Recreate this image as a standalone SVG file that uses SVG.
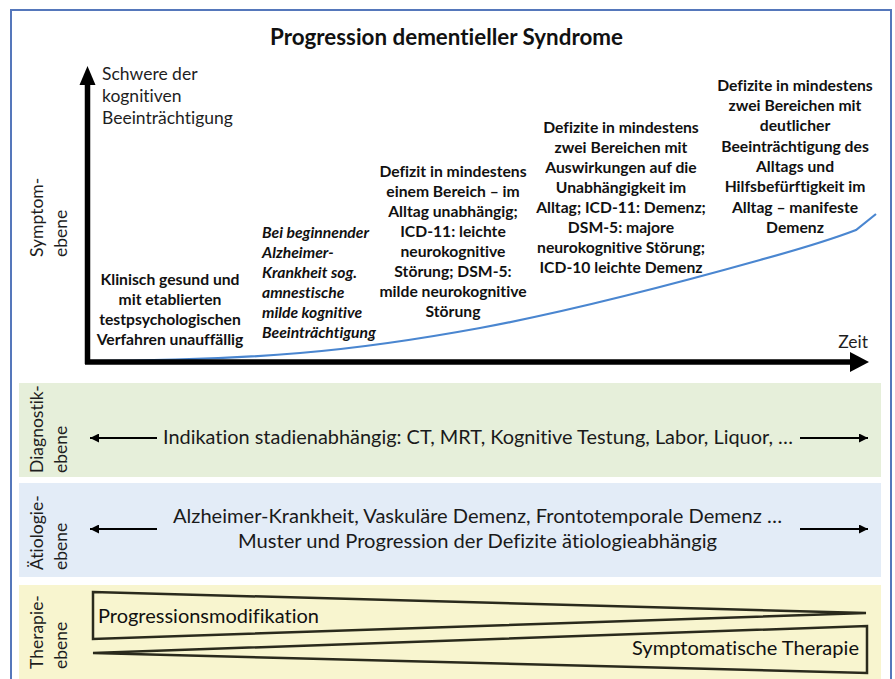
<svg xmlns="http://www.w3.org/2000/svg" width="895" height="679" viewBox="0 0 895 679">
<defs>
<style>
.t{font-family:Lato,"Liberation Sans",sans-serif;fill:#111;font-variant-ligatures:none;font-feature-settings:"liga" 0,"clig" 0}
.b{font-weight:bold;font-size:15.7px;text-anchor:middle}
.bi{font-weight:bold;font-style:italic;font-size:15.7px}
.lab{font-size:17.5px;fill:#1e1e1e}
.band{font-size:18.5px;fill:#1a1a1a;text-anchor:middle}
.thin{stroke:#000;stroke-width:2;fill:none}
.tri{fill:none;stroke:#2a2a1c;stroke-width:2.5;stroke-linejoin:miter}
</style>
<marker id="ah" viewBox="0 0 10 10" refX="10" refY="5" markerWidth="5.5" markerHeight="4.5" orient="auto-start-reverse" markerUnits="strokeWidth">
<path d="M0,0 L10,5 L0,10 z" fill="#000"/>
</marker>
</defs>
<rect x="0" y="0" width="895" height="679" fill="#fff"/>
<rect x="11" y="10" width="880" height="690" fill="#fff" stroke="#5577bb" stroke-width="2"/>

<g id="title">
<text class="t" x="446.5" y="45" font-size="22" font-weight="bold" text-anchor="middle" textLength="353" lengthAdjust="spacingAndGlyphs">Progression dementieller Syndrome</text>
</g>

<g id="bands">
<rect x="19" y="383" width="862" height="94" fill="#e6efda"/>
<rect x="19" y="483" width="862" height="94" fill="#e3ecf7"/>
<rect x="19" y="585" width="862" height="100" fill="#f8f5cf"/>
</g>

<g id="connectors">
<path d="M88,361 C180,361 240,358 300,353 C360,348 420,339 480,328 C560,313 660,288 760,260 C800,249 830,240 856,230 L876,214" fill="none" stroke="#4a86d0" stroke-width="2.2"/>
<line x1="87.5" y1="364" x2="87.5" y2="84" stroke="#000" stroke-width="5.5"/>
<polygon points="87.5,66 79.5,85 95.5,85" fill="#000"/>
<line x1="85" y1="362" x2="851" y2="362" stroke="#000" stroke-width="5.5"/>
<polygon points="869,362 850,352 850,372" fill="#000"/>
<line class="thin" x1="90" y1="438" x2="157" y2="438" marker-start="url(#ah)"/>
<line class="thin" x1="800" y1="438" x2="868" y2="438" marker-end="url(#ah)"/>
<line class="thin" x1="90" y1="529" x2="157" y2="529" marker-start="url(#ah)"/>
<line class="thin" x1="800" y1="529" x2="868" y2="529" marker-end="url(#ah)"/>
</g>

<g id="axis-labels">
<text class="t lab" x="102" y="80">Schwere der</text>
<text class="t lab" x="102" y="102">kognitiven</text>
<text class="t lab" x="102" y="124">Beeinträchtigung</text>
<text class="t lab" x="868" y="348" text-anchor="end" font-size="19.5">Zeit</text>
</g>

<g id="level-labels">
<text class="t lab" transform="translate(43,257) rotate(-90)">Symptom-</text>
<text class="t lab" transform="translate(67,257) rotate(-90)">ebene</text>
<text class="t lab" transform="translate(43,473) rotate(-90)">Diagnostik-</text>
<text class="t lab" transform="translate(67,473) rotate(-90)">ebene</text>
<text class="t lab" transform="translate(43,570) rotate(-90)">Ätiologie-</text>
<text class="t lab" transform="translate(67,570) rotate(-90)">ebene</text>
<text class="t lab" transform="translate(43,669) rotate(-90)">Therapie-</text>
<text class="t lab" transform="translate(67,669) rotate(-90)">ebene</text>
</g>

<g id="stage1">
<text class="t b" x="170" y="285">Klinisch gesund und</text>
<text class="t b" x="170" y="305">mit etablierten</text>
<text class="t b" x="170" y="325">testpsychologischen</text>
<text class="t b" x="170" y="345">Verfahren unauffällig</text>
</g>

<g id="stage2">
<text class="t bi" x="262" y="238">Bei beginnender</text>
<text class="t bi" x="262" y="258">Alzheimer-</text>
<text class="t bi" x="262" y="278">Krankheit sog.</text>
<text class="t bi" x="262" y="298">amnestische</text>
<text class="t bi" x="262" y="318">milde kognitive</text>
<text class="t bi" x="262" y="338">Beeinträchtigung</text>
</g>

<g id="stage3">
<text class="t b" x="453" y="177">Defizit in mindestens</text>
<text class="t b" x="453" y="197">einem Bereich – im</text>
<text class="t b" x="453" y="217">Alltag unabhängig;</text>
<text class="t b" x="453" y="237">ICD-11: leichte</text>
<text class="t b" x="453" y="257">neurokognitive</text>
<text class="t b" x="453" y="277">Störung; DSM-5:</text>
<text class="t b" x="453" y="297">milde neurokognitive</text>
<text class="t b" x="453" y="317">Störung</text>
</g>

<g id="stage4">
<text class="t b" x="621" y="133">Defizite in mindestens</text>
<text class="t b" x="621" y="153">zwei Bereichen mit</text>
<text class="t b" x="621" y="173">Auswirkungen auf die</text>
<text class="t b" x="621" y="193">Unabhängigkeit im</text>
<text class="t b" x="621" y="213">Alltag; ICD-11: Demenz;</text>
<text class="t b" x="621" y="233">DSM-5: majore</text>
<text class="t b" x="621" y="253">neurokognitive Störung;</text>
<text class="t b" x="621" y="273">ICD-10 leichte Demenz</text>
</g>

<g id="stage5">
<text class="t b" x="795" y="91">Defizite in mindestens</text>
<text class="t b" x="795" y="111">zwei Bereichen mit</text>
<text class="t b" x="795" y="131">deutlicher</text>
<text class="t b" x="795" y="152">Beeinträchtigung des</text>
<text class="t b" x="795" y="172">Alltags und</text>
<text class="t b" x="795" y="192">Hilfsbefürftigkeit im</text>
<text class="t b" x="795" y="213">Alltag – manifeste</text>
<text class="t b" x="795" y="233">Demenz</text>
</g>

<g id="diagnostik">
<text class="t band" x="478" y="444" textLength="630" lengthAdjust="spacingAndGlyphs">Indikation stadienabhängig: CT, MRT, Kognitive Testung, Labor, Liquor, …</text>
</g>

<g id="aetiologie">
<text class="t band" x="477.5" y="523" textLength="609" lengthAdjust="spacingAndGlyphs">Alzheimer-Krankheit, Vaskuläre Demenz, Frontotemporale Demenz …</text>
<text class="t band" x="477.5" y="548" textLength="479" lengthAdjust="spacingAndGlyphs">Muster und Progression der Defizite ätiologieabhängig</text>
</g>

<g id="therapie">
<polygon class="tri" points="93,592 866,613 93,639"/>
<polygon class="tri" points="93,653 867,626 867,673"/>
<text class="t" x="98" y="623" font-size="18.5" fill="#2a2a1c" textLength="221" lengthAdjust="spacingAndGlyphs">Progressionsmodifikation</text>
<text class="t" x="859" y="655" font-size="18.5" fill="#2a2a1c" text-anchor="end" textLength="227" lengthAdjust="spacingAndGlyphs">Symptomatische Therapie</text>
</g>
</svg>
